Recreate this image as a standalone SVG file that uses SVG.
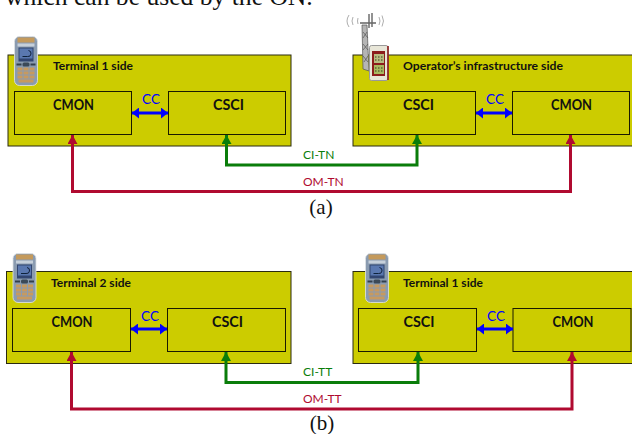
<svg xmlns="http://www.w3.org/2000/svg" width="632" height="434" viewBox="0 0 632 434">
<style>
.panel{fill:#cccc00;stroke:#2a2a10;stroke-width:1}
.box{fill:#cccc00;stroke:#1a1a00;stroke-width:1}
.side{font:bold 12px Lato,"Liberation Sans",sans-serif;fill:#111}
.name{font:bold 14.5px Lato,"Liberation Sans",sans-serif;fill:#111;text-anchor:middle}
.lab{font:12px Lato,"Liberation Sans",sans-serif}
.cc{font:13.5px Lato,"Liberation Sans",sans-serif;fill:#0000ff;text-anchor:middle}
.cap{font:21px "Liberation Serif",serif;fill:#111;text-anchor:middle}
.blue{stroke:#0000ff;fill:none;stroke-width:3}
.green{stroke:#0a7d0a;fill:none;stroke-width:3}
.red{stroke:#b00a30;fill:none;stroke-width:3}
</style>
<defs>
<marker id="hb" markerUnits="userSpaceOnUse" markerWidth="8" markerHeight="11" refX="7" refY="5.500" orient="auto-start-reverse"><path d="M0 0L7 5.500L0 11Z" fill="#0000ff"/></marker>
<marker id="hg" markerUnits="userSpaceOnUse" markerWidth="10" markerHeight="10" refX="9" refY="5" orient="auto-start-reverse"><path d="M0 0L9 5L0 10Z" fill="#0a7d0a"/></marker>
<marker id="hr" markerUnits="userSpaceOnUse" markerWidth="10" markerHeight="10" refX="9" refY="5" orient="auto-start-reverse"><path d="M0 0L9 5L0 10Z" fill="#b00a30"/></marker>
<filter id="soft" x="-10%" y="-10%" width="120%" height="120%"><feGaussianBlur stdDeviation="0.35"/></filter>
<g id="phone" filter="url(#soft)">
<rect x="0" y="0" width="23" height="49" rx="5" fill="#8a9bb0" stroke="#dfe3e6" stroke-width="0.8"/>
<rect x="3" y="1" width="17" height="5" fill="#c49a5c"/>
<rect x="3" y="7" width="17" height="3" fill="#c6d0da"/>
<rect x="4" y="11" width="15" height="14" fill="#30456f"/>
<rect x="5" y="12" width="13" height="10" fill="#5a78b0"/>
<path d="M8 20h5a3 3 0 0 0 1-6" stroke="#10203a" fill="none"/>
<rect x="8" y="26" width="7" height="4" rx="1.500" fill="#3b4a58"/>
<rect x="2" y="27" width="5" height="2" fill="#33414e"/>
<rect x="16" y="27" width="5" height="2" fill="#33414e"/>
<g fill="#c69a60"><rect x="3" y="31" width="5" height="3"/><rect x="9" y="31" width="5" height="3"/><rect x="15" y="31" width="5" height="3"/><rect x="3" y="35" width="5" height="3"/><rect x="9" y="35" width="5" height="3"/><rect x="15" y="35" width="5" height="3"/><rect x="3" y="39" width="5" height="3"/><rect x="9" y="39" width="5" height="3"/><rect x="15" y="39" width="5" height="3"/><rect x="4" y="43" width="15" height="3"/></g>
</g>
</defs>
<text x="5" y="5" font-family="Liberation Serif, serif" font-size="25.600" fill="#111">which can be used by the ON.</text>

<g id="a-terminal1"><rect class="panel" x="8" y="55" width="283" height="91"/><text class="side" x="53" y="70">Terminal 1 side</text></g>
<g id="a-cmon1"><rect class="box" x="14.500" y="91.500" width="117" height="43"/><text class="name" x="73.500" y="110" textLength="41" lengthAdjust="spacingAndGlyphs">CMON</text></g>
<g id="a-csci1"><rect class="box" x="168.500" y="91.500" width="117" height="43"/><text class="name" x="228.500" y="110" textLength="31" lengthAdjust="spacingAndGlyphs">CSCI</text></g>
<g id="a-phone"><use href="#phone" x="14.500" y="36.500"/></g>

<g id="a-operator"><rect class="panel" x="353" y="55" width="285" height="91"/><text class="side" x="403" y="70" textLength="160" lengthAdjust="spacingAndGlyphs">Operator’s infrastructure side</text></g>
<g id="a-csci2"><rect class="box" x="358.500" y="91.500" width="117" height="43"/><text class="name" x="418.500" y="110" textLength="31" lengthAdjust="spacingAndGlyphs">CSCI</text></g>
<g id="a-cmon2"><rect class="box" x="512.500" y="91.500" width="117" height="43"/><text class="name" x="571.500" y="110" textLength="41" lengthAdjust="spacingAndGlyphs">CMON</text></g>
<g id="a-tower" filter="url(#soft)">
<path d="M362 25L367 25L369 71L363 69Z" fill="#b5b5b5" stroke="#555" stroke-width="0.7"/>
<path d="M363 32L368 38M367 32L363 38M363 44L368 50M368 44L363 50M363 56L368 62M368 56L364 62" stroke="#444" stroke-width="0.6"/>
<path d="M360 23H376M369 14V28M372 13V27" stroke="#666" stroke-width="1.400"/>
<path d="M349 15Q345 21 349 27M353 17Q351 21 353 25M382 15.500Q385 21 382 26.500M379 17Q381 21 379 25M358 18Q357 21 358 24" stroke="#999" fill="none" stroke-width="0.800"/>
<rect x="369.500" y="45.500" width="18.500" height="35" rx="2" fill="#e8e6d8" stroke="#999"/>
<path d="M388 46V80" stroke="#8c1c1c" stroke-width="1.600" fill="none"/>
<rect x="372" y="51" width="13" height="25" fill="#8c1c1c"/>
<rect x="374" y="54" width="10" height="9" fill="#b8bc80"/>
<rect x="374" y="65" width="10" height="9" fill="#a8b860"/>
<path d="M375 57h8M375 60h8M375 68h8M375 71h8" stroke="#3a3a20" stroke-dasharray="1.500 1.500" stroke-width="1"/>
</g>

<text class="cap" x="321" y="214">(a)</text>

<g id="b-terminal2"><rect class="panel" x="6.500" y="271.500" width="284.500" height="92"/><text class="side" x="51" y="287">Terminal 2 side</text></g>
<g id="b-cmon"><rect class="box" x="12.500" y="308.500" width="118" height="43"/><text class="name" x="72" y="327" textLength="41" lengthAdjust="spacingAndGlyphs">CMON</text></g>
<g id="b-csci"><rect class="box" x="167.500" y="308.500" width="118" height="43"/><text class="name" x="227.500" y="327" textLength="31" lengthAdjust="spacingAndGlyphs">CSCI</text></g>
<g id="b-phone1"><use href="#phone" x="13" y="253.500"/></g>
<g id="b-terminal1"><rect class="panel" x="353" y="271.500" width="285" height="92"/><text class="side" x="403" y="287">Terminal 1 side</text></g>
<g id="b-csci2"><rect class="box" x="358.500" y="308.500" width="118" height="43"/><text class="name" x="419" y="327" textLength="31" lengthAdjust="spacingAndGlyphs">CSCI</text></g>
<g id="b-cmon2"><rect class="box" x="513" y="308.500" width="118" height="43"/><text class="name" x="573" y="327" textLength="41" lengthAdjust="spacingAndGlyphs">CMON</text></g>
<g id="b-phone2"><use href="#phone" x="365.500" y="253.500"/></g>
<text class="cap" x="322" y="430">(b)</text>

<g id="connectors">
<path class="blue" d="M132 113H168" marker-start="url(#hb)" marker-end="url(#hb)"/>
<path class="blue" d="M476 113H512" marker-start="url(#hb)" marker-end="url(#hb)"/>
<path class="green" d="M226.500 135V165H417V135" marker-start="url(#hg)" marker-end="url(#hg)"/>
<path class="red" d="M72.500 135V191.500H570.500V135" marker-start="url(#hr)" marker-end="url(#hr)"/>
<path class="blue" d="M131 329H167" marker-start="url(#hb)" marker-end="url(#hb)"/>
<path class="blue" d="M477 329H513" marker-start="url(#hb)" marker-end="url(#hb)"/>
<path class="green" d="M226 352V382.500H418V352" marker-start="url(#hg)" marker-end="url(#hg)"/>
<path class="red" d="M71.500 352V409H572V352" marker-start="url(#hr)" marker-end="url(#hr)"/>
</g>
<g id="labels">
<text class="cc" x="151" y="104">CC</text>
<text class="cc" x="495" y="104">CC</text>
<text class="lab" x="303" y="159" fill="#0a7d0a">CI-TN</text>
<text class="lab" x="303" y="186" fill="#b00a30">OM-TN</text>
<text class="cc" x="150" y="321">CC</text>
<text class="cc" x="496" y="321">CC</text>
<text class="lab" x="303" y="376" fill="#0a7d0a">CI-TT</text>
<text class="lab" x="303" y="403" fill="#b00a30">OM-TT</text>
</g>
</svg>
